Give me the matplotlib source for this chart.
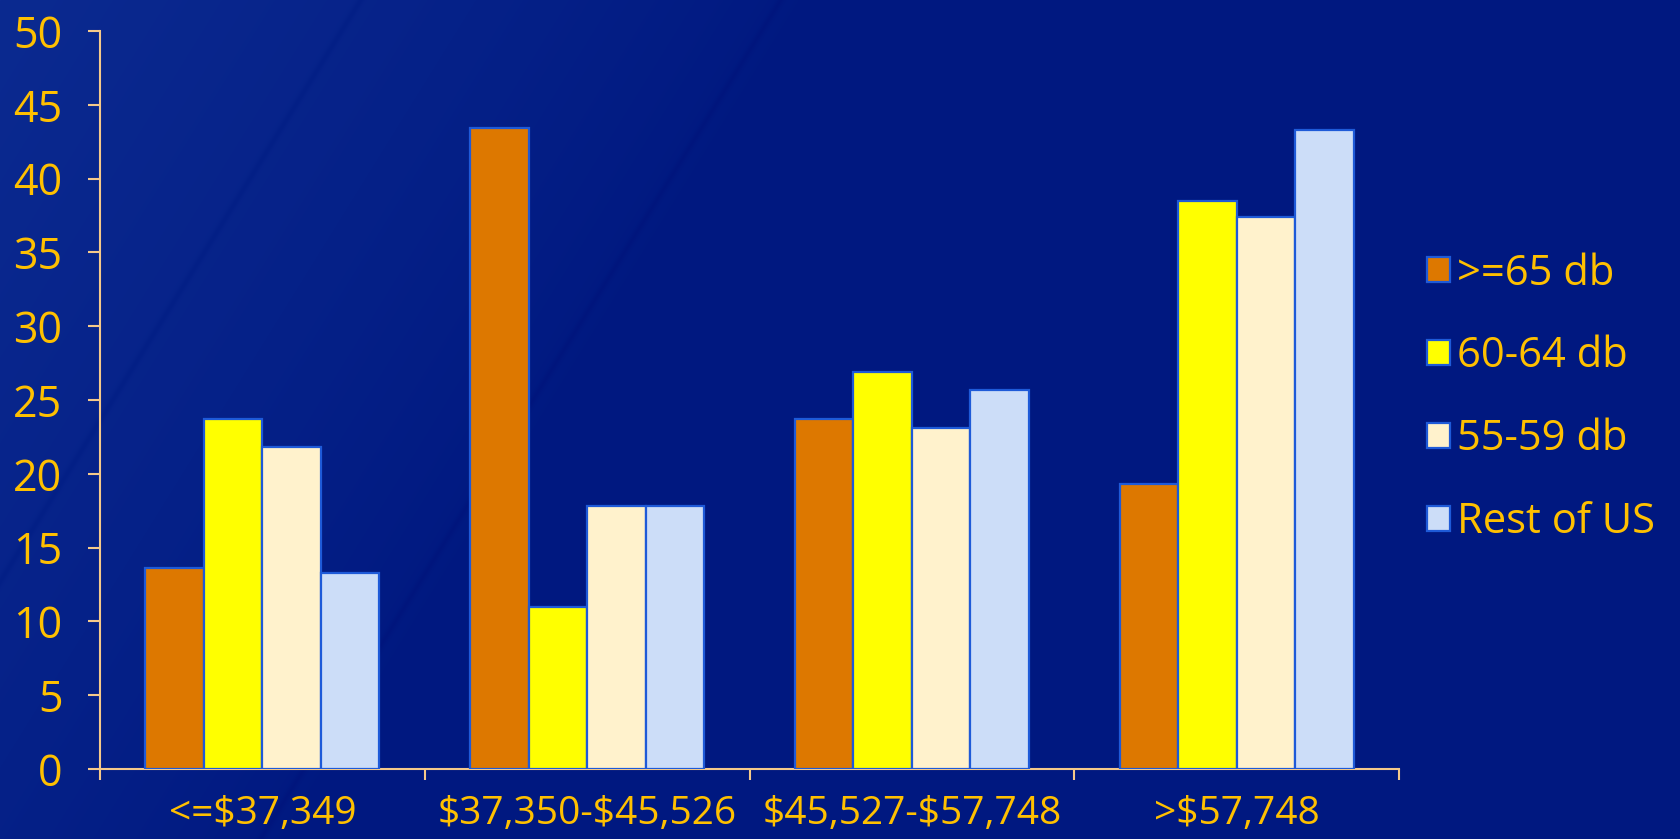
import numpy as np
import matplotlib.pyplot as plt
from matplotlib.colors import to_rgb

# Share of population by median household income, per noise exposure band
income_groups = ['<=$37,349', '$37,350-$45,526', '$45,527-$57,748', '>$57,748']
series_names = ['>=65 db', '60-64 db', '55-59 db', 'Rest of US']
values = {
    '>=65 db':    [13.6, 43.4, 23.7, 19.3],
    '60-64 db':   [23.7, 11.0, 26.9, 38.5],
    '55-59 db':   [21.8, 17.8, 23.1, 37.4],
    'Rest of US': [13.3, 17.8, 25.7, 43.3],
}
y_ticks = list(range(0, 51, 5))

bar_colors = ['#DD7800', '#FFFF00', '#FFF2CC', '#CCDDF8']
edge_color = '#1E5AD8'
text_color = '#FFC000'
axis_color = '#F5C98A'

plt.rcParams['font.family'] = ['Open Sans', 'DejaVu Sans']
plt.rcParams['text.parse_math'] = False

W, H = 1681, 839
fig = plt.figure(figsize=(W / 100, H / 100), dpi=100)

# slide-style navy background with a faint lighter diagonal sweep on the left
bg_ax = fig.add_axes([0, 0, 1, 1], zorder=-10)
yy, xx = np.mgrid[0:H, 0:W]
u = xx + 0.62 * yy
boost = np.clip(1 - u / 820, 0, 1) ** 0.8
base = np.array(to_rgb('#001880'))
light = np.array(to_rgb('#0B2A90'))
img = base + (light - base) * boost[..., None]
for edge in (360, 780):
    line = np.exp(-((u - edge) / 4) ** 2)
    img -= 0.015 * line[..., None]
bg_ax.imshow(np.clip(img, 0, 1), aspect='auto', extent=[0, W, H, 0])
bg_ax.axis('off')

ax = fig.add_axes([100 / W, 1 - 769 / H, 1299 / W, 738 / H])
ax.patch.set_alpha(0)

n = len(series_names)
width = 0.18
x = np.arange(len(income_groups))
for i, name in enumerate(series_names):
    offset = (i - (n - 1) / 2) * width
    ax.bar(x + offset, values[name], width, color=bar_colors[i],
           edgecolor=edge_color, linewidth=1.6, label=name, zorder=3)

ax.set_xlim(-0.5, len(income_groups) - 0.5)
ax.set_ylim(0, 50)
ax.set_yticks(y_ticks)
ax.set_xticks(x)
ax.set_xticklabels(income_groups)
ax.set_xticks(np.arange(-0.5, len(income_groups)), minor=True)
ax.tick_params(axis='x', which='major', length=0, pad=19,
               labelsize=28, labelcolor=text_color)
ax.tick_params(axis='x', which='minor', length=8, width=1.5,
               color=axis_color, direction='out')
ax.tick_params(axis='y', length=9, width=1.5, color=axis_color,
               direction='out', pad=18, labelsize=31, labelcolor=text_color)

for side in ('top', 'right'):
    ax.spines[side].set_visible(False)
for side in ('left', 'bottom'):
    ax.spines[side].set_color(axis_color)
    ax.spines[side].set_linewidth(1.5)

leg = ax.legend(loc='center left', bbox_to_anchor=(1 + 28 / 1299, 0.503),
                frameon=False, fontsize=30, labelcolor=text_color,
                handlelength=0.55, handleheight=0.55, handletextpad=0.18,
                labelspacing=0.98, borderaxespad=0, borderpad=0)

fig.savefig('out.png', dpi=100, facecolor='#001880')
